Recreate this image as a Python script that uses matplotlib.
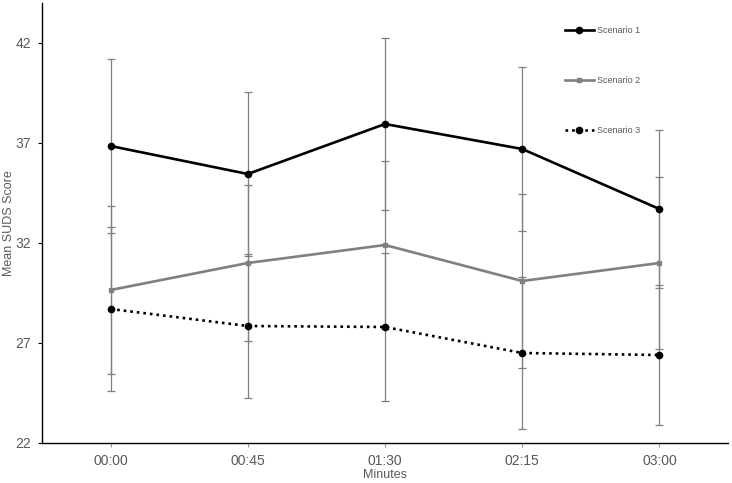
import matplotlib
matplotlib.use("Agg")
import matplotlib.pyplot as plt

plt.rcParams['font.family'] = ['Liberation Sans', 'DejaVu Sans']

categories = ["00:00", "00:45", "01:30", "02:15", "03:00"]
s1_mean = [36.85, 35.45, 37.95, 36.7, 33.7]
s1_err = [4.33, 4.1, 4.3, 4.08, 3.93]
s2_mean = [29.65, 31.0, 31.9, 30.1, 31.0]
s2_err = [4.2, 3.92, 4.2, 4.37, 4.3]
s3_mean = [28.7, 27.85, 27.8, 26.5, 26.4]
s3_err = [4.1, 3.6, 3.7, 3.8, 3.5]
yticks = [22, 27, 32, 37, 42]
labels = ["Scenario 1", "Scenario 2", "Scenario 3"]

W, H = 732, 483
fig = plt.figure(figsize=(W / 100, H / 100), dpi=100)
ax = fig.add_axes([42 / W, 40 / H, (728 - 42) / W, (443 - 3) / H])

x = list(range(len(categories)))
ecol = '#7f7f7f'
for m, e in [(s1_mean, s1_err), (s2_mean, s2_err), (s3_mean, s3_err)]:
    ax.errorbar(x, m, yerr=e, fmt='none', ecolor=ecol, elinewidth=0.9,
                capsize=3, capthick=0.9, zorder=1)

l1, = ax.plot(x, s1_mean, color='black', lw=1.9, marker='o', ms=4.5, zorder=3)
l2, = ax.plot(x, s2_mean, color='#808080', lw=1.9, marker='s', ms=3, zorder=3)
l3, = ax.plot(x, s3_mean, color='black', lw=1.9, ls=(0, (1, 1.5)), marker='o',
              ms=4.5, zorder=3)

ax.set_xlim(-0.5, 4.5)
ax.set_ylim(22, 44)
ax.set_xticks(x)
ax.set_xticklabels(categories)
ax.set_yticks(yticks)
for s in ['top', 'right']:
    ax.spines[s].set_visible(False)
for s in ['left', 'bottom']:
    ax.spines[s].set_color('black')
    ax.spines[s].set_linewidth(1.0)
ax.tick_params(axis='both', colors='#595959', labelsize=10, length=3,
               width=0.8, direction='out', pad=5)
ax.tick_params(axis='y', color='black')
ax.tick_params(axis='x', color='#999999')
ax.set_xlabel("Minutes", fontsize=9, color='#595959')
ax.xaxis.set_label_coords(0.5, -(469 - 443) / 440)
ax.set_ylabel("Mean SUDS Score", fontsize=9, color='#595959')
ax.yaxis.set_label_coords((15 - 42) / (728 - 42), 0.5)

leg = fig.legend([l1, l2, l3], labels, loc='upper left',
                 bbox_to_anchor=(565 / W, 1 - 26 / H),
                 bbox_transform=fig.transFigure, frameon=False,
                 fontsize=6.5, labelspacing=4.55, handlelength=3.2,
                 handletextpad=0.3, borderpad=0, borderaxespad=0)
for t in leg.get_texts():
    t.set_color('#595959')

fig.savefig("out.png", dpi=100)
